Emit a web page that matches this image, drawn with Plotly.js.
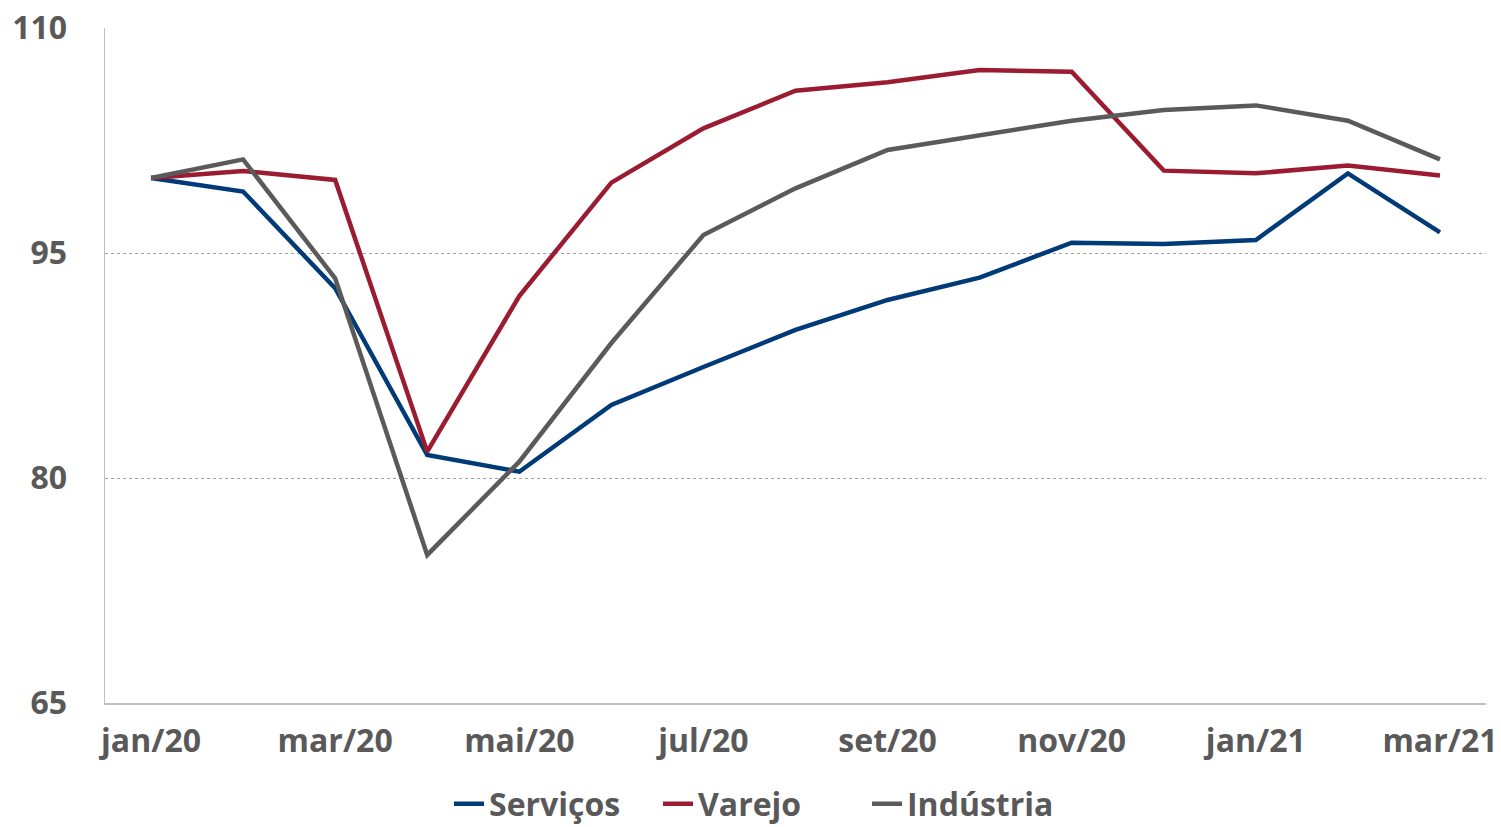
<!DOCTYPE html>
<html>
<head>
<meta charset="utf-8">
<script src="https://cdn.plot.ly/plotly-3.0.1.min.js"></script>
<style>html,body{margin:0;padding:0;background:#fff;}#chart{width:1501px;height:827px;}</style>
</head>
<body>
<div id="chart"></div>
<script>
const months = ["jan/20","fev/20","mar/20","abr/20","mai/20","jun/20","jul/20","ago/20","set/20","out/20","nov/20","dez/20","jan/21","fev/21","mar/21"];
const tickLabels = ["jan/20","mar/20","mai/20","jul/20","set/20","nov/20","jan/21","mar/21"];
const servicos = [100, 99.1, 92.65, 81.53, 80.42, 84.87, 87.4, 89.87, 91.87, 93.36, 95.69, 95.6, 95.87, 100.31, 96.38];
const varejo   = [100, 100.47, 99.87, 81.76, 92.13, 99.69, 103.31, 105.82, 106.38, 107.2, 107.09, 100.49, 100.31, 100.84, 100.16];
const industria= [100, 101.24, 93.31, 74.87, 81.09, 89.0, 96.2, 99.31, 101.87, 102.87, 103.82, 104.53, 104.84, 103.82, 101.24];

const font = {family: "Open Sans, sans-serif", size: 32, color: "#595959", weight: "bold"};

const traces = [
  {x: months, y: servicos, name: "Serviços", mode: "lines", line: {color: "#003B77", width: 4.5}},
  {x: months, y: varejo, name: "Varejo", mode: "lines", line: {color: "#9B1C31", width: 4.5}},
  {x: months, y: industria, name: "Indústria", mode: "lines", line: {color: "#5A5A5A", width: 4.5}}
];

const layout = {
  width: 1501, height: 827,
  margin: {l: 105, r: 15, t: 28, b: 124},
  paper_bgcolor: "#fff", plot_bgcolor: "#fff",
  font: font,
  showlegend: true,
  hovermode: false,
  xaxis: {
    type: "category",
    range: [-0.5, 14.5],
    tickvals: tickLabels,
    ticktext: tickLabels,
    showgrid: false,
    showline: true, linecolor: "#BFBFBF", linewidth: 1.5,
    ticks: "", ticklabelstandoff: 9,
    tickfont: font,
    zeroline: false
  },
  yaxis: {
    range: [65, 110],
    tickvals: [65, 80, 95, 110],
    showgrid: true, gridcolor: "#A0A0A0", gridwidth: 1, griddash: "dot",
    showline: true, linecolor: "#BFBFBF", linewidth: 1.5,
    ticks: "", ticklabelstandoff: 30,
    tickfont: font,
    zeroline: false
  },
  legend: {
    orientation: "h", xref: "container", x: 0.508, xanchor: "center",
    yref: "container", y: 0.028, yanchor: "middle",
    font: font, entrywidth: 164, entrywidthmode: "pixels", tracegroupgap: 0
  }
};

Plotly.newPlot("chart", traces, layout, {displayModeBar: false, staticPlot: true});
</script>
</body>
</html>
